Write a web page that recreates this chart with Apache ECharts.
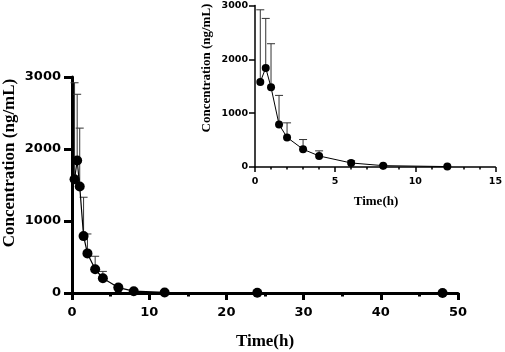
<!DOCTYPE html>
<html>
<head>
<meta charset="utf-8">
<script src="https://cdn.jsdelivr.net/npm/echarts@6/dist/echarts.min.js"></script>
<style>
html,body{margin:0;padding:0;background:#fff;}
#chart{width:505px;height:352px;}
</style>
</head>
<body>
<div id="chart"></div>
<script>
// time points (h), mean concentration and SD (ng/mL)
var times = [0.33, 0.67, 1, 1.5, 2, 3, 4, 6, 8, 12, 24, 48];
var means = [1580, 1840, 1480, 790, 550, 330, 205, 75, 25, 8, 3, 1];
var sds = [1340, 920, 810, 540, 270, 180, 95, 40, 15, 5, 2, 1];
var yTicks = [0, 1000, 2000, 3000];

var tickFont = 'DejaVu Sans';

var pts = times.map(function(t, i){ return [t, means[i]]; });
var bars = times.map(function(t, i){ return [t, means[i], sds[i]]; });
var insetPts = pts.filter(function(d){ return d[0] <= 15; });
var insetBars = bars.filter(function(d){ return d[0] <= 15; });

function errBar(cap, lw){
    return function(params, api){
        var x = api.value(0), m = api.value(1), s = api.value(2);
        var p0 = api.coord([x, m]);
        var p1 = api.coord([x, m + s]);
        var st = {stroke: '#333', lineWidth: lw};
        return {type: 'group', children: [
            {type: 'line', shape: {x1: p0[0], y1: p0[1], x2: p1[0], y2: p1[1]}, style: st},
            {type: 'line', shape: {x1: p1[0] - cap, y1: p1[1], x2: p1[0] + cap, y2: p1[1]}, style: st}
        ]};
    };
}

function plain(v){ return String(v); }

function xAx(idx, max, interval, minorSplit, lw, fs, tickLen, margin){
    return {
        type: 'value', gridIndex: idx, min: 0, max: max, interval: interval,
        axisLine: {show: true, onZero: false, lineStyle: {color: '#000', width: lw}},
        axisTick: {show: true, length: tickLen, lineStyle: {color: '#000', width: lw}},
        minorTick: {show: true, splitNumber: minorSplit, length: tickLen / 2, lineStyle: {color: '#000', width: lw}},
        splitLine: {show: false},
        axisLabel: {color: '#000', fontFamily: tickFont, fontWeight: 'bold', fontSize: fs, margin: margin, formatter: plain}
    };
}
function yAx(idx, lw, fs, tickLen, margin){
    return {
        type: 'value', gridIndex: idx, min: yTicks[0], max: yTicks[yTicks.length - 1], interval: 1000,
        axisLine: {show: true, onZero: false, lineStyle: {color: '#000', width: lw}},
        axisTick: {show: true, length: tickLen, lineStyle: {color: '#000', width: lw}},
        splitLine: {show: false},
        axisLabel: {color: '#000', fontFamily: tickFont, fontWeight: 'bold', fontSize: fs, margin: margin, formatter: plain}
    };
}

var myChart = echarts.init(document.getElementById('chart'), null, {renderer: 'canvas'});

var option = {
    animation: false,
    backgroundColor: '#fff',
    grid: [
        {left: 72, right: 47, top: 77, bottom: 59},
        {left: 255, right: 8, top: 5.5, bottom: 185}
    ],
    xAxis: [
        xAx(0, 50, 10, 2, 3, 13, 7, 13),
        xAx(1, 15, 5, 5, 1.5, 9.5, 5, 10)
    ],
    yAxis: [
        yAx(0, 3, 13, 8, 11),
        yAx(1, 1.5, 9.5, 6, 7)
    ],
    graphic: [
        {type: 'text', x: 10, y: 163, rotation: Math.PI / 2,
         style: {text: 'Concentration (ng/mL)', font: 'bold 17px "Liberation Serif"', fill: '#000', align: 'center', verticalAlign: 'middle'}},
        {type: 'text', x: 265, y: 342,
         style: {text: 'Time(h)', font: 'bold 17px "Liberation Serif"', fill: '#000', align: 'center', verticalAlign: 'middle'}},
        {type: 'text', x: 207, y: 68, rotation: Math.PI / 2,
         style: {text: 'Concentration (ng/mL)', font: 'bold 13px "Liberation Serif"', fill: '#000', align: 'center', verticalAlign: 'middle'}},
        {type: 'text', x: 376, y: 202,
         style: {text: 'Time(h)', font: 'bold 13px "Liberation Serif"', fill: '#000', align: 'center', verticalAlign: 'middle'}}
    ],
    series: [
        {type: 'custom', xAxisIndex: 0, yAxisIndex: 0, z: 1, data: bars, renderItem: errBar(4, 1)},
        {type: 'line', xAxisIndex: 0, yAxisIndex: 0, z: 2, data: pts,
         symbol: 'circle', symbolSize: 10, itemStyle: {color: '#000'},
         lineStyle: {color: '#000', width: 1.2}},
        {type: 'custom', xAxisIndex: 1, yAxisIndex: 1, z: 1, data: insetBars, renderItem: errBar(4, 1)},
        {type: 'line', xAxisIndex: 1, yAxisIndex: 1, z: 2, data: insetPts,
         symbol: 'circle', symbolSize: 8, itemStyle: {color: '#000'},
         lineStyle: {color: '#000', width: 1}}
    ]
};

myChart.setOption(option);
</script>
</body>
</html>
